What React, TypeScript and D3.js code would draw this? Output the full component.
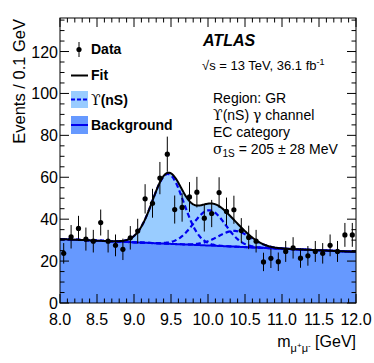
import React from 'react';
import * as d3 from 'd3';

// bin centres (0.1 GeV bins) and events
const binCentres = [
  8.05, 8.15, 8.25, 8.35, 8.45, 8.55, 8.65, 8.75, 8.85, 8.95,
  9.05, 9.15, 9.25, 9.35, 9.45, 9.55, 9.65, 9.75, 9.85, 9.95,
  10.05, 10.15, 10.25, 10.35, 10.45, 10.55, 10.65, 10.75, 10.85, 10.95,
  11.05, 11.15, 11.25, 11.35, 11.45, 11.55, 11.65, 11.75, 11.85, 11.95,
];
const events = [
  23.7, 31.6, 35.6, 30.5, 29.5, 38.4, 29.5, 27.5, 25.6, 31.1,
  34.3, 49.7, 47.6, 59.6, 71.0, 44.6, 45.6, 50.6, 52.9, 40.5,
  42.7, 52.7, 43.7, 44.5, 34.6, 31.3, 29.5, 19.6, 21.3, 19.7,
  24.6, 26.3, 21.4, 22.5, 24.6, 23.7, 27.5, 24.6, 32.5, 32.5,
];
const errors = [
  4.9, 5.6, 6.0, 5.5, 5.4, 6.2, 5.4, 5.2, 5.1, 5.6,
  5.9, 7.0, 6.9, 7.7, 8.4, 6.7, 6.8, 7.1, 7.3, 6.4,
  6.5, 7.3, 6.6, 6.7, 5.9, 5.6, 5.4, 4.4, 4.6, 4.4,
  5.0, 5.1, 4.6, 4.7, 5.0, 4.9, 5.2, 5.0, 5.7, 5.7,
];

// fit: linear background + three upsilon gaussians
const bkgAt8 = 30.5;
const bkgAt12 = 24.4;
const peakMass = [9.46, 10.02, 10.36];
const peakSigma = [0.21, 0.217, 0.222];
const peakAmp = [33.3, 16.8, 7.5];

const xTickLabels = ['8.0', '8.5', '9.0', '9.5', '10.0', '10.5', '11.0', '11.5', '12.0'];
const yTickLabels = ['0', '20', '40', '60', '80', '100', '120'];

const W = 374, H = 363;
const margin = { top: 18, right: 18, bottom: 60, left: 60 };
const FONT = '"Liberation Sans", Arial, Helvetica, sans-serif';

const bkg = (m: number) => bkgAt8 + (bkgAt12 - bkgAt8) * (m - 8) / 4;
const peak = (i: number, m: number) =>
  peakAmp[i] * Math.exp(-0.5 * ((m - peakMass[i]) / peakSigma[i]) ** 2);
const total = (m: number) => bkg(m) + peak(0, m) + peak(1, m) + peak(2, m);

export default function App() {
  const x = d3.scaleLinear().domain([8, 12]).range([margin.left, W - margin.right]);
  const y = d3.scaleLinear().domain([0, 136]).range([H - margin.bottom, margin.top]);
  const x0 = x.range()[0], x1 = x.range()[1];
  const y0 = y.range()[0], y1 = y.range()[1];

  const grid = d3.range(8, 12.0001, 0.01);

  const bkgArea = d3.area<number>().x(d => x(d)).y0(y(0)).y1(d => y(bkg(d)));
  const sigArea = d3.area<number>().x(d => x(d)).y0(d => y(bkg(d))).y1(d => y(total(d)));
  const bkgLine = d3.line<number>().x(d => x(d)).y(d => y(bkg(d)));
  const fitLine = d3.line<number>().x(d => x(d)).y(d => y(total(d)));
  const peakLine = (i: number) => d3.line<number>().x(d => x(d)).y(d => y(bkg(d) + peak(i, d)));

  const xMinor = x.ticks(40);
  const xMajor = x.ticks(8);
  const yMinor = d3.range(0, 136, 5);
  const yMajor = yTickLabels.map(Number);

  const lightBlue = '#99ccff';
  const darkBlue = '#6699ff';
  const lineBlue = '#0000ee';

  return (
    <svg width={W} height={H} style={{ position: 'absolute', left: 0, top: 0, background: '#fff' }}
      fontFamily={FONT}>
      <defs>
        <clipPath id="plot">
          <rect x={x0} y={y1} width={x1 - x0} height={y0 - y1} />
        </clipPath>
      </defs>
      <g clipPath="url(#plot)">
        <path d={bkgArea(grid) || ''} fill={darkBlue} />
        <path d={sigArea(grid) || ''} fill={lightBlue} />
        <path d={bkgLine(grid) || ''} fill="none" stroke={lineBlue} strokeWidth={2} />
        {peakMass.map((_, i) => (
          <path key={i} d={peakLine(i)(grid) || ''} fill="none" stroke={lineBlue}
            strokeWidth={2.2} strokeDasharray="5,3" />
        ))}
        <path d={fitLine(grid) || ''} fill="none" stroke="#000" strokeWidth={2} />
        {binCentres.map((m, i) => (
          <g key={i}>
            <line x1={x(m)} x2={x(m)} y1={y(events[i] - errors[i])} y2={y(events[i] + errors[i])}
              stroke="#000" strokeWidth={1} />
            <circle cx={x(m)} cy={y(events[i])} r={2.6} fill="#000" />
          </g>
        ))}
      </g>

      {/* frame and inward ticks */}
      <rect x={x0} y={y1} width={x1 - x0} height={y0 - y1} fill="none" stroke="#000" strokeWidth={1} />
      {xMinor.map((t, i) => {
        const len = xMajor.some(v => Math.abs(v - t) < 1e-6) ? 9 : 4.5;
        return (
          <g key={'xt' + i} stroke="#000" strokeWidth={1}>
            <line x1={x(t)} x2={x(t)} y1={y0} y2={y0 - len} />
            <line x1={x(t)} x2={x(t)} y1={y1} y2={y1 + len} />
          </g>
        );
      })}
      {yMinor.map((t, i) => {
        const len = yMajor.includes(t) ? 9 : 4.5;
        return (
          <g key={'yt' + i} stroke="#000" strokeWidth={1}>
            <line x1={x0} x2={x0 + len} y1={y(t)} y2={y(t)} />
            <line x1={x1} x2={x1 - len} y1={y(t)} y2={y(t)} />
          </g>
        );
      })}
      {xMajor.map((t, i) => (
        <text key={'xl' + i} x={x(t)} y={y0 + 22} textAnchor="middle" fontSize={16}>{xTickLabels[i]}</text>
      ))}
      {yMajor.map((t, i) => (
        <text key={'yl' + i} x={x0 - 2} y={y(t) + 6} textAnchor="end" fontSize={16}>{yTickLabels[i]}</text>
      ))}

      {/* axis titles */}
      <text x={x1} y={347} textAnchor="end" fontSize={16}>
        m<tspan fontSize={11} dy={5}>μ</tspan><tspan fontSize={8} dy={-4}>+</tspan>
        <tspan fontSize={11} dy={4}>μ</tspan><tspan fontSize={8} dy={-4}>-</tspan>
        <tspan dy={-1}> [GeV]</tspan>
      </text>
      <text transform={`translate(25, ${y1 + 1}) rotate(-90)`} textAnchor="end" fontSize={16.5}>
        Events / 0.1 GeV
      </text>

      {/* legend */}
      <g fontSize={14} fontWeight="bold">
        <line x1={79} x2={79} y1={42} y2={57} stroke="#000" />
        <circle cx={79} cy={49.5} r={2.6} fill="#000" />
        <text x={91} y={54}>Data</text>

        <line x1={71} x2={88} y1={75.5} y2={75.5} stroke="#000" strokeWidth={2} />
        <text x={91} y={80}>Fit</text>

        <rect x={71} y={91} width={17} height={17} fill={lightBlue} />
        <line x1={71} x2={88} y1={99.5} y2={99.5} stroke={lineBlue} strokeWidth={2} strokeDasharray="4,2" />
        <text x={91} y={105}><tspan fontFamily="DejaVu Serif" fontWeight="normal">ϒ</tspan>(nS)</text>

        <rect x={71} y={116} width={17} height={18} fill={darkBlue} />
        <line x1={71} x2={88} y1={125} y2={125} stroke={lineBlue} strokeWidth={2} />
        <text x={91} y={130}>Background</text>
      </g>

      {/* labels */}
      <text x={203} y={46} fontSize={16} fontWeight="bold" fontStyle="italic">ATLAS</text>
      <text x={202} y={70} fontSize={13}>√s = 13 TeV, 36.1 fb<tspan fontSize={9} dy={-5}>-1</tspan></text>
      <g fontSize={14}>
        <text x={213} y={103}>Region: GR</text>
        <text x={213} y={120}><tspan fontFamily="DejaVu Serif">ϒ</tspan>(nS) <tspan fontFamily="DejaVu Serif">γ</tspan> channel</text>
        <text x={213} y={137}>EC category</text>
        <text x={213} y={154}>
          <tspan fontFamily="DejaVu Serif">σ</tspan><tspan fontSize={10} dy={3}>1S</tspan>
          <tspan dy={-3}> = 205 ± 28 MeV</tspan>
        </text>
      </g>
    </svg>
  );
}
